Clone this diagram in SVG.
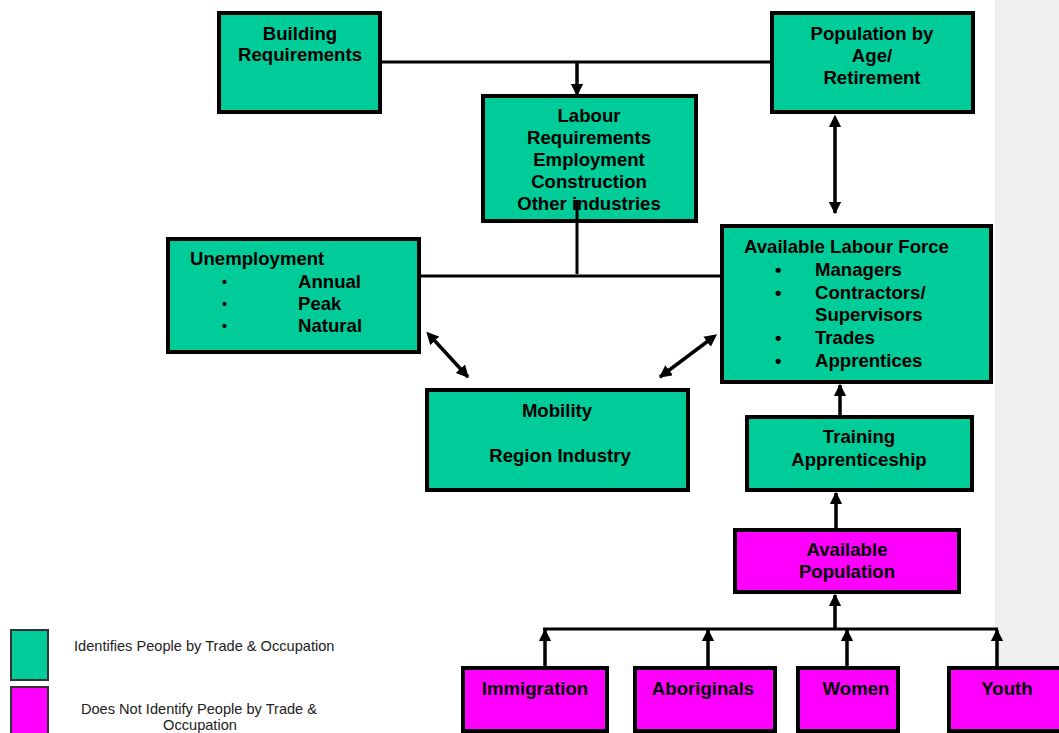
<svg xmlns="http://www.w3.org/2000/svg" width="1059" height="733" viewBox="0 0 1059 733">
<style>
.g{fill:#00CC99;stroke:#000;stroke-width:4}
.m{fill:#FF00FF;stroke:#000;stroke-width:4}
.t{font-family:"Liberation Sans",Arial,sans-serif;font-weight:bold;font-size:18.6px;fill:#000}
.c{text-anchor:middle}
.l{font-family:"Liberation Sans",Arial,sans-serif;font-size:14.6px;fill:#222}
.b{font-family:"Liberation Sans",Arial,sans-serif;font-weight:bold;font-size:14px;fill:#000}
.ln{stroke:#000;stroke-width:3;fill:none}
.a{stroke:#000;stroke-width:3.5;fill:none;marker-end:url(#ah)}
.d{stroke:#000;stroke-width:3.5;fill:none;marker-end:url(#ah);marker-start:url(#as)}
</style>
<defs>
<marker id="ah" viewBox="0 0 10 10" refX="9" refY="5" markerWidth="3.6" markerHeight="3.6" orient="auto" markerUnits="strokeWidth"><path d="M0,0L10,5L0,10z" fill="#000"/></marker>
<marker id="as" viewBox="0 0 10 10" refX="1" refY="5" markerWidth="3.6" markerHeight="3.6" orient="auto-start-reverse" markerUnits="strokeWidth"><path d="M0,0L10,5L0,10z" fill="#000"/></marker>
</defs>
<rect x="0" y="0" width="1059" height="733" fill="#fff"/>
<rect x="995" y="0" width="64" height="733" fill="#f0f0f0"/>

<g id="connectors">
<line class="ln" x1="382" y1="62" x2="770" y2="62"/>
<line class="a" x1="577" y1="62" x2="577" y2="95"/>
<line class="ln" x1="577" y1="200" x2="577" y2="274"/>
<line class="ln" x1="420" y1="276" x2="720" y2="276"/>
<line class="d" x1="835" y1="126" x2="835" y2="213"/>
<line class="d" x1="434" y1="340" x2="468" y2="377"/>
<line class="d" x1="708" y1="341" x2="660" y2="377"/>
<line class="a" x1="840" y1="415" x2="840" y2="385"/>
<line class="a" x1="836" y1="528" x2="836" y2="493"/>
<line class="a" x1="835" y1="629" x2="835" y2="595"/>
<line class="ln" x1="543" y1="629" x2="998" y2="629"/>
<line class="a" x1="545" y1="666" x2="545" y2="630"/>
<line class="a" x1="708" y1="666" x2="708" y2="630"/>
<line class="a" x1="847" y1="666" x2="847" y2="630"/>
<line class="a" x1="997" y1="666" x2="997" y2="630"/>
</g>

<g id="building">
<rect class="g" x="219" y="13" width="161" height="99"/>
<text class="t c" x="300" y="40">Building</text>
<text class="t c" x="300" y="61">Requirements</text>
</g>

<g id="population">
<rect class="g" x="772" y="13" width="201" height="99"/>
<text class="t c" x="872" y="40">Population by</text>
<text class="t c" x="872" y="62">Age/</text>
<text class="t c" x="872" y="84">Retirement</text>
</g>

<g id="labour">
<rect class="g" x="483" y="96" width="213" height="125"/>
<text class="t c" x="589" y="122">Labour</text>
<text class="t c" x="589" y="144">Requirements</text>
<text class="t c" x="589" y="166">Employment</text>
<text class="t c" x="589" y="188">Construction</text>
<text class="t c" x="589" y="210">Other industries</text>
<line class="ln" x1="577" y1="200" x2="577" y2="221"/>
</g>

<g id="unemployment">
<rect class="g" x="168" y="239" width="251" height="113"/>
<text class="t" x="190" y="265">Unemployment</text>
<text class="b" x="222" y="287">•</text>
<text class="b" x="222" y="309">•</text>
<text class="b" x="222" y="331">•</text>
<text class="t" x="298" y="288">Annual</text>
<text class="t" x="298" y="310">Peak</text>
<text class="t" x="298" y="332">Natural</text>
</g>

<g id="labourforce">
<rect class="g" x="722" y="226" width="269" height="156"/>
<text class="t" x="744" y="253">Available Labour Force</text>
<text class="t" x="775" y="276">•</text>
<text class="t" x="775" y="299">•</text>
<text class="t" x="775" y="344">•</text>
<text class="t" x="775" y="367">•</text>
<text class="t" x="815" y="276">Managers</text>
<text class="t" x="815" y="299">Contractors/</text>
<text class="t" x="815" y="321">Supervisors</text>
<text class="t" x="815" y="344">Trades</text>
<text class="t" x="815" y="367">Apprentices</text>
</g>

<g id="mobility">
<rect class="g" x="427" y="390" width="261" height="100"/>
<text class="t c" x="557" y="417">Mobility</text>
<text class="t c" x="560" y="462">Region Industry</text>
</g>

<g id="training">
<rect class="g" x="747" y="417" width="225" height="73"/>
<text class="t c" x="859" y="443">Training</text>
<text class="t c" x="859" y="466">Apprenticeship</text>
</g>

<g id="availpop">
<rect class="m" x="735" y="530" width="224" height="62"/>
<text class="t c" x="847" y="556">Available</text>
<text class="t c" x="847" y="578">Population</text>
</g>

<g id="immigration">
<rect class="m" x="463" y="668" width="144" height="63"/>
<text class="t c" x="535" y="695">Immigration</text>
</g>
<g id="aboriginals">
<rect class="m" x="635" y="668" width="140" height="63"/>
<text class="t c" x="703" y="695">Aboriginals</text>
</g>
<g id="women">
<rect class="m" x="798" y="668" width="100" height="63"/>
<text class="t c" x="856" y="695">Women</text>
</g>
<g id="youth">
<rect class="m" x="949" y="668" width="118" height="63"/>
<text class="t c" x="1007" y="695">Youth</text>
</g>

<g id="legend">
<rect x="11" y="630" width="37" height="50" fill="#00CC99" stroke="#333" stroke-width="2"/>
<rect x="11" y="687" width="37" height="50" fill="#FF00FF" stroke="#333" stroke-width="2"/>
<text class="l" x="74" y="651">Identifies People by Trade &amp; Occupation</text>
<text class="l c" x="199" y="714">Does Not Identify People by Trade &amp;</text>
<text class="l c" x="200" y="730">Occupation</text>
</g>
</svg>
